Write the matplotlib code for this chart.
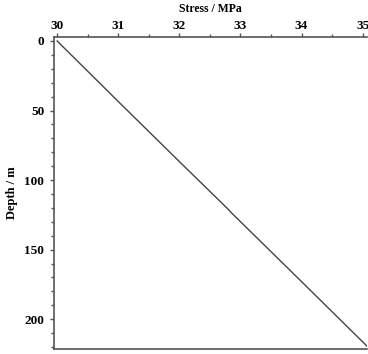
import numpy as np
import matplotlib.pyplot as plt
from matplotlib.ticker import MultipleLocator

# stress (MPa) vs depth (m)
stress = [30.0, 31.0, 32.0, 32.8, 32.84, 34.0, 35.12]
depth = [0.0, 43.5, 86.7, 121.0, 123.0, 173.0, 221.5]

x_ticks = [30, 31, 32, 33, 34, 35]
y_ticks = [0, 50, 100, 150, 200]

plt.rcParams['font.family'] = ['Liberation Serif', 'DejaVu Serif']
plt.rcParams['font.weight'] = 'bold'

fig = plt.figure(figsize=(3.68, 3.54), dpi=100)
ax = fig.add_axes([0.147, 0.014, 0.85, 0.882])

ax.plot(stress, depth, color='#444444', linewidth=1.0)

ax.set_xlim(29.95, 35.07)
ax.set_ylim(221.5, -3)
ax.xaxis.tick_top()
ax.xaxis.set_label_position('top')
ax.set_xticks(x_ticks)
ax.set_yticks(y_ticks)
ax.xaxis.set_minor_locator(MultipleLocator(0.5))
ax.yaxis.set_minor_locator(MultipleLocator(10))
ax.set_xlabel('Stress / MPa', fontsize=8.5, fontweight='bold', labelpad=6)
ax.set_ylabel('Depth / m', fontsize=9, fontweight='bold', labelpad=5)

ax.tick_params(axis='both', which='major', labelsize=9.5, length=3, width=1, color='#555555', direction='out', pad=0.5)
ax.tick_params(axis='y', which='major', pad=4)
ax.tick_params(axis='both', which='minor', length=2, width=1, color='#555555', direction='out')
for s in ['left', 'top', 'bottom']:
    ax.spines[s].set_color('#555555')
    ax.spines[s].set_linewidth(1.2)
ax.spines['right'].set_visible(False)

fig.savefig('out.png', dpi=100)
